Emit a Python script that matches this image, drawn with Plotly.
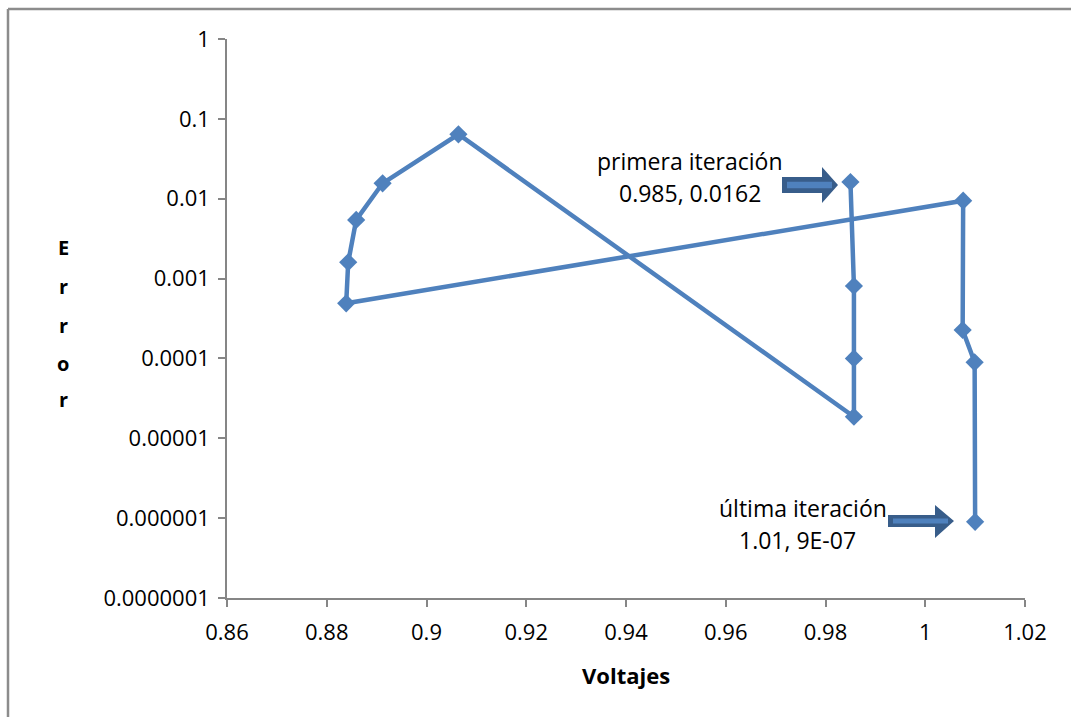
import plotly.graph_objects as go

# Newton iterations: voltage vs. error (log scale)
voltajes = [0.985, 0.9857, 0.9857, 0.9857, 0.9064, 0.8912, 0.8859, 0.8843, 0.8839,
            1.0076, 1.0075, 1.0099, 1.01]
errores = [0.0162, 0.000807, 0.0001, 1.86e-5, 0.0641, 0.0156, 0.00542, 0.0016, 0.00049,
           0.00944, 0.000227, 8.95e-5, 9e-7]

y_tickvals = [1, 0.1, 0.01, 0.001, 0.0001, 0.00001, 0.000001, 0.0000001]
y_ticktext = ["1", "0.1", "0.01", "0.001", "0.0001", "0.00001", "0.000001", "0.0000001"]
x_tickvals = [0.86, 0.88, 0.9, 0.92, 0.94, 0.96, 0.98, 1, 1.02]
x_ticktext = ["0.86", "0.88", "0.9", "0.92", "0.94", "0.96", "0.98", "1", "1.02"]

W, H = 1071, 717
L, R, T, B = 227, 46, 39, 119
PW, PH = W - L - R, H - T - B

FONT = "Open Sans"
BLUE = "#4F81BD"
DARK = "#385D8A"
AXIS = "#868686"


def px(x):
    return (x - L) / PW


def py(y):
    return (H - B - y) / PH


fig = go.Figure()
fig.add_trace(go.Scatter(
    x=voltajes, y=errores, mode="lines+markers",
    line=dict(color=BLUE, width=4.5),
    marker=dict(symbol="diamond", size=14, color=BLUE),
    showlegend=False,
))


def block_arrow(x0, x1, xtip, ys0, ys1, yh0, yh1, ytip):
    outer = (f"M {px(x0)} {py(ys0)} L {px(x1)} {py(ys0)} L {px(x1)} {py(yh0)} "
             f"L {px(xtip)} {py(ytip)} L {px(x1)} {py(yh1)} L {px(x1)} {py(ys1)} "
             f"L {px(x0)} {py(ys1)} Z")
    inner_y0 = ys0 + (ys1 - ys0) * 0.3
    inner_y1 = ys1 - (ys1 - ys0) * 0.3
    inner = (f"M {px(x0 + 5)} {py(inner_y0)} L {px(xtip - 6)} {py(inner_y0)} "
             f"L {px(xtip - 6)} {py(inner_y1)} L {px(x0 + 5)} {py(inner_y1)} Z")
    return [
        dict(type="path", xref="paper", yref="paper", path=outer,
             fillcolor=DARK, line=dict(width=0)),
        dict(type="path", xref="paper", yref="paper", path=inner,
             fillcolor=BLUE, line=dict(width=0)),
    ]


shapes = []
shapes += block_arrow(782, 822, 838, 177, 193, 167, 203, 185)
shapes += block_arrow(888, 935, 954, 515, 527, 505, 538, 521)
# chart area border
shapes.append(dict(type="line", xref="paper", yref="paper",
                   x0=px(8), x1=px(1080), y0=py(9), y1=py(9),
                   line=dict(color="#8C8C8C", width=2.5)))
shapes.append(dict(type="line", xref="paper", yref="paper",
                   x0=px(8), x1=px(8), y0=py(9), y1=py(730),
                   line=dict(color="#8C8C8C", width=2.5)))

annotations = []


def label(text, x, y, size=23, bold=False):
    annotations.append(dict(
        text=f"<b>{text}</b>" if bold else text,
        xref="paper", yref="paper", x=px(x), y=py(y),
        xanchor="center", yanchor="middle", showarrow=False,
        font=dict(family=FONT, size=size, color="#000000"),
    ))


label("primera iteración", 690, 161)
label("0.985, 0.0162", 690, 193)
label("última iteración", 803, 508)
label("1.01, 9E-07", 797, 540)
label("Voltajes", 626, 675, size=22, bold=True)
# vertical stacked axis title
for letter, yy in zip("Error", [247, 286, 325, 363, 399]):
    label(letter, 63, yy, size=20, bold=True)

fig.update_layout(
    width=W, height=H,
    margin=dict(l=L, r=R, t=T, b=B),
    paper_bgcolor="white", plot_bgcolor="white",
    font=dict(family=FONT, size=22, color="#000000"),
    shapes=shapes, annotations=annotations,
    xaxis=dict(
        range=[0.86, 1.02], tickvals=x_tickvals, ticktext=x_ticktext,
        showgrid=False, zeroline=False, showline=True, linecolor=AXIS, linewidth=1.5,
        ticks="outside", ticklen=7, tickcolor=AXIS, tickwidth=1.5,
        tickfont=dict(family=FONT, size=22), ticklabelstandoff=7,
    ),
    yaxis=dict(
        type="log", range=[-7, 0], tickvals=y_tickvals, ticktext=y_ticktext,
        showgrid=False, zeroline=False, showline=True, linecolor=AXIS, linewidth=1.5,
        ticks="outside", ticklen=7, tickcolor=AXIS, tickwidth=1.5,
        tickfont=dict(family=FONT, size=22), ticklabelstandoff=4,
    ),
)

fig.write_html("out.html")
